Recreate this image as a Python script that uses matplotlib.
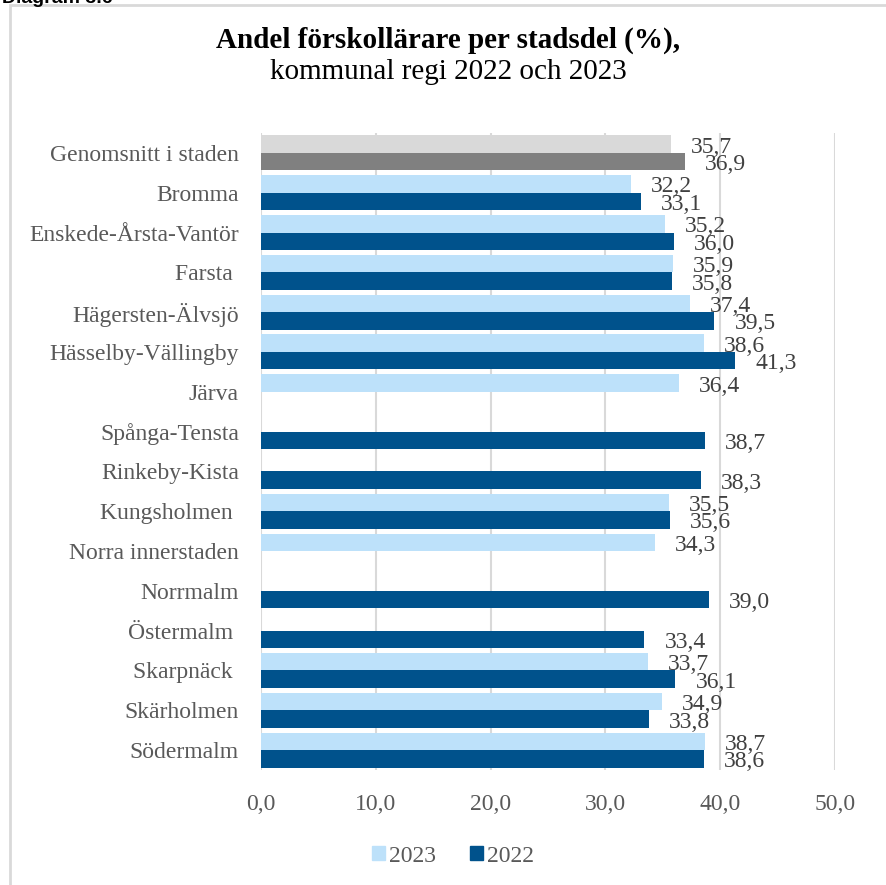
import numpy as np
import matplotlib.pyplot as plt
from matplotlib.patches import Rectangle

# Data (NaN = no bar)
categories = [
    "Genomsnitt i staden", "Bromma", "Enskede-Årsta-Vantör", "Farsta ",
    "Hägersten-Älvsjö", "Hässelby-Vällingby", "Järva", "Spånga-Tensta",
    "Rinkeby-Kista", "Kungsholmen ", "Norra innerstaden", "Norrmalm",
    "Östermalm ", "Skarpnäck ", "Skärholmen", "Södermalm",
]
values_2023 = [35.7, 32.2, 35.2, 35.9, 37.4, 38.6, 36.4, np.nan,
               np.nan, 35.5, 34.3, np.nan, np.nan, 33.7, 34.9, 38.7]
values_2022 = [36.9, 33.1, 36.0, 35.8, 39.5, 41.3, np.nan, 38.7,
               38.3, 35.6, np.nan, 39.0, 33.4, 36.1, 33.8, 38.6]
x_ticks = [0, 10, 20, 30, 40, 50]

LIGHT = "#BDE1FA"
DARK = "#00528C"
GREY_LIGHT = "#D9D9D9"
GREY_DARK = "#808080"

plt.rcParams["font.family"] = ["Liberation Serif", "DejaVu Serif"]
FS = 17

W, H = 886, 885
fig = plt.figure(figsize=(W / 100, H / 100), dpi=100)
ax = fig.add_axes([261 / W, 1 - 770 / H, (835 - 261) / W, (770 - 133) / H])

y = np.arange(len(categories))
h = 0.44
col23 = [GREY_LIGHT if i == 0 else LIGHT for i in range(len(categories))]
col22 = [GREY_DARK if i == 0 else DARK for i in range(len(categories))]
v23 = np.nan_to_num(values_2023)
v22 = np.nan_to_num(values_2022)
ax.barh(y - h / 2, v23, height=h, color=col23, zorder=2)
ax.barh(y + h / 2, v22, height=h, color=col22, zorder=3)

def fmt(v):
    return f"{v:.1f}".replace(".", ",")

for i in range(len(categories)):
    for v, off in ((values_2023[i], -h / 2), (values_2022[i], h / 2)):
        if np.isnan(v):
            continue
        ax.annotate(fmt(v), (v, i + off), xytext=(20, -3), textcoords="offset pixels",
                    ha="left", va="center", fontsize=FS, color="#404040", zorder=4)

ax.set_xlim(0, 50)
ax.set_ylim(len(categories) - 0.5, -0.5)
ax.set_xticks(x_ticks)
ax.set_xticklabels([fmt(t) for t in x_ticks], fontsize=FS, color="#595959")
ax.set_yticks(y)
ax.set_yticklabels(categories, fontsize=FS, color="#595959")
ax.tick_params(length=0)
ax.tick_params(axis="y", pad=16)
ax.tick_params(axis="x", pad=17)
ax.grid(axis="x", color="#D9D9D9", linewidth=1.5, zorder=0)
for s in ax.spines.values():
    s.set_visible(False)

# Legend
handles = [plt.Rectangle((0, 0), 1, 1, color=LIGHT), plt.Rectangle((0, 0), 1, 1, color=DARK)]
fig.legend(handles, ["2023", "2022"], loc="center", bbox_to_anchor=(453 / W, 1 - 856 / H),
           ncol=2, frameon=False, fontsize=FS, handlelength=0.55, handleheight=0.55,
           handletextpad=0.2, columnspacing=1.4, labelcolor="#595959")

# Title
fig.text(448 / W, 1 - 40 / H, "Andel förskollärare per stadsdel (%),", ha="center", va="center",
         fontsize=21, fontweight="bold", color="black")
fig.text(448 / W, 1 - 72 / H, "kommunal regi 2022 och 2023", ha="center", va="center",
         fontsize=21, color="black")

# Cut-off caption and frame
fig.text(2 / W, 1 - 3 / H, "Diagram 3.6", ha="left", va="baseline", fontsize=14,
         fontweight="bold", family="Liberation Sans")
fig.patches.append(Rectangle((10 / W, -0.1), 1.0, 1 - 5 / H + 0.1, transform=fig.transFigure,
                             fill=False, edgecolor="#D9D9D9", linewidth=2))

plt.savefig("out.png", dpi=100)
